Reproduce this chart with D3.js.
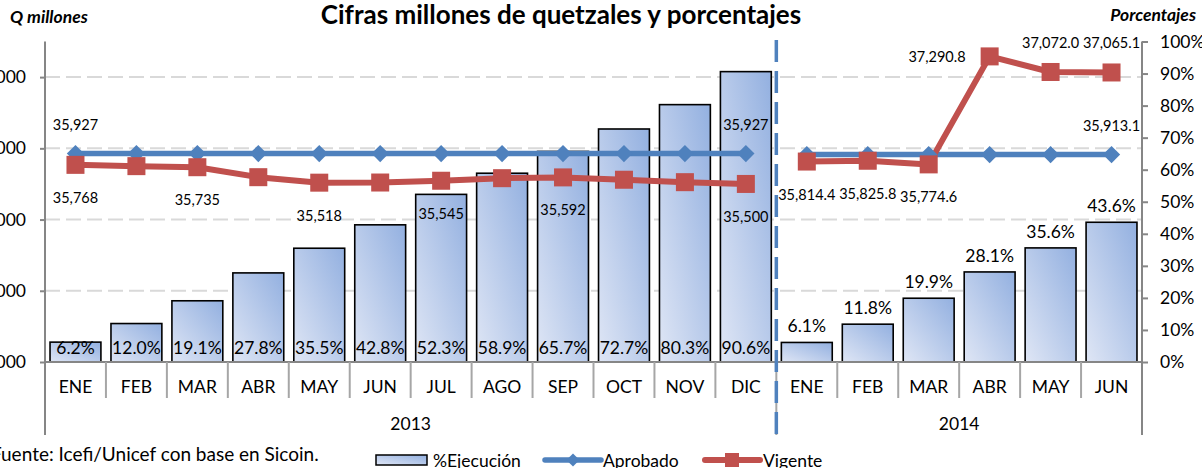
<!DOCTYPE html>
<html>
<head>
<meta charset="utf-8">
<script src="https://cdn.jsdelivr.net/npm/d3@7"></script>
<style>
  body { margin: 0; background: #fff; }
  text { font-family: Lato, "Open Sans", sans-serif; fill: #000; }
</style>
</head>
<body>
<svg id="chart" width="1202" height="468"></svg>
<script>
// data
var years = ["2013", "2014"];
var months2013 = ["ENE","FEB","MAR","ABR","MAY","JUN","JUL","AGO","SEP","OCT","NOV","DIC"];
var months2014 = ["ENE","FEB","MAR","ABR","MAY","JUN"];
var ejecucion2013 = [6.2, 12.0, 19.1, 27.8, 35.5, 42.8, 52.3, 58.9, 65.7, 72.7, 80.3, 90.6];
var ejecucion2014 = [6.1, 11.8, 19.9, 28.1, 35.6, 43.6];
var aprobado2013 = [35927, 35927, 35927, 35927, 35927, 35927, 35927, 35927, 35927, 35927, 35927, 35927];
var aprobado2014 = [35913.1, 35913.1, 35913.1, 35913.1, 35913.1, 35913.1];
var vigente2013 = [35768, 35750, 35735, 35595, 35518, 35520, 35545, 35581, 35592, 35559, 35525, 35500];
var vigente2014 = [35814.4, 35825.8, 35774.6, 37290.8, 37072.0, 37065.1];
var leftTicks = [33000, 34000, 35000, 36000, 37000];
var rightTicks = [0, 10, 20, 30, 40, 50, 60, 70, 80, 90, 100];

// which points carry a data label, and where
var aprobLabels = { "2013-0": "above", "2013-11": "above", "2014-5": "above" };
var vigLabels = { "2013-0": "below", "2013-2": "below", "2013-4": "below", "2013-6": "below",
  "2013-8": "below", "2013-11": "below", "2014-0": "below", "2014-1": "below", "2014-2": "below",
  "2014-3": "left", "2014-4": "above", "2014-5": "above" };

var rows = [];
months2013.forEach(function(m, i) {
  rows.push({ year: "2013", i: i, month: m, key: "2013-" + i, ejec: ejecucion2013[i], aprob: aprobado2013[i], vig: vigente2013[i] });
});
months2014.forEach(function(m, i) {
  rows.push({ year: "2014", i: i, month: m, key: "2014-" + i, ejec: ejecucion2014[i], aprob: aprobado2014[i], vig: vigente2014[i] });
});

var plotLeft = 45, plotRight = 1142, plotTop = 41.5, plotBottom = 362;
var blue = "#4f81bd", red = "#c0504d";
var fs = 17.5;

var svg = d3.select("#chart");

var x = d3.scaleBand().domain(rows.map(function(d) { return d.key; }))
  .range([plotLeft, plotRight]).paddingInner(0.165).paddingOuter(0.0825);
var yL = d3.scaleLinear().domain([33000, 37500]).range([plotBottom, plotTop]);
var yR = d3.scaleLinear().domain([0, 100]).range([plotBottom, plotTop]);
var cx = function(d) { return x(d.key) + x.bandwidth() / 2; };

var defs = svg.append("defs");
var grad = defs.append("linearGradient").attr("id", "barGrad")
  .attr("x1", "0").attr("y1", "1").attr("x2", "1").attr("y2", "0");
grad.append("stop").attr("offset", "0%").attr("stop-color", "#dfe6f5");
grad.append("stop").attr("offset", "100%").attr("stop-color", "#93b0e0");

// gridlines from the left axis
svg.append("g").selectAll("line").data(leftTicks.slice(1)).join("line")
  .attr("x1", plotLeft).attr("x2", plotRight)
  .attr("y1", function(d) { return yL(d); }).attr("y2", function(d) { return yL(d); })
  .attr("stroke", "#d9d9d9").attr("stroke-width", 2).attr("stroke-dasharray", "15,6");

// bars
svg.append("g").selectAll("rect").data(rows).join("rect")
  .attr("x", function(d) { return x(d.key); })
  .attr("width", x.bandwidth())
  .attr("y", function(d) { return yR(d.ejec); })
  .attr("height", function(d) { return yR(0) - yR(d.ejec); })
  .attr("fill", "url(#barGrad)").attr("stroke", "#000").attr("stroke-width", 1.6);

svg.append("g").selectAll("text").data(rows).join("text")
  .attr("x", cx)
  .attr("y", function(d) { return d.year === "2013" ? plotBottom - 8 : yR(d.ejec) - 10; })
  .attr("text-anchor", "middle").attr("font-size", fs)
  .text(function(d) { return d3.format(".1f")(d.ejec) + "%"; });

// left axis
var axL = svg.append("g").attr("transform", "translate(" + plotLeft + ",0)")
  .call(d3.axisLeft(yL).tickValues(leftTicks).tickSize(5).tickPadding(14).tickFormat(d3.format(",")));
axL.select(".domain").remove();
axL.selectAll("line").attr("stroke", "#868686").attr("stroke-width", 2);
axL.selectAll("text").attr("font-size", fs).attr("font-family", "Lato, sans-serif");
svg.append("line").attr("x1", plotLeft).attr("x2", plotLeft).attr("y1", plotTop).attr("y2", 435)
  .attr("stroke", "#868686").attr("stroke-width", 2);

// right axis
var axR = svg.append("g").attr("transform", "translate(" + plotRight + ",0)")
  .call(d3.axisRight(yR).tickValues(rightTicks).tickSize(6).tickPadding(12).tickFormat(function(d) { return d + "%"; }));
axR.select(".domain").remove();
axR.selectAll("line").attr("stroke", "#868686").attr("stroke-width", 2);
axR.selectAll("text").attr("font-size", fs).attr("font-family", "Lato, sans-serif");
svg.append("line").attr("x1", plotRight).attr("x2", plotRight).attr("y1", plotTop).attr("y2", 435)
  .attr("stroke", "#868686").attr("stroke-width", 2);

// category axis
svg.append("line").attr("x1", plotLeft).attr("x2", plotRight).attr("y1", plotBottom).attr("y2", plotBottom)
  .attr("stroke", "#868686").attr("stroke-width", 2);
var step = x.step();
svg.append("g").selectAll("line").data(rows.slice(1)).join("line")
  .attr("x1", function(d) { return cx(d) - step / 2; }).attr("x2", function(d) { return cx(d) - step / 2; })
  .attr("y1", plotBottom).attr("y2", function(d) { return d.i === 0 ? 435 : 398; })
  .attr("stroke", "#a6a6a6").attr("stroke-width", 2);
svg.append("g").selectAll("text").data(rows).join("text")
  .attr("x", cx).attr("y", 393).attr("text-anchor", "middle").attr("font-size", fs)
  .text(function(d) { return d.month; });
svg.append("g").selectAll("text").data(years).join("text")
  .attr("x", function(yr) {
    var r = rows.filter(function(d) { return d.year === yr; });
    return (cx(r[0]) + cx(r[r.length - 1])) / 2;
  })
  .attr("y", 430).attr("text-anchor", "middle").attr("font-size", fs)
  .text(function(d) { return d; });

// year separator
var sep = cx(rows[12]) - step / 2;
svg.append("line").attr("x1", sep).attr("x2", sep).attr("y1", 40).attr("y2", 438)
  .attr("stroke", blue).attr("stroke-width", 3.5).attr("stroke-dasharray", "22,9");

// lines
var lineA = d3.line().x(cx).y(function(d) { return yL(d.aprob); });
var lineV = d3.line().x(cx).y(function(d) { return yL(d.vig); });
var fmt0 = d3.format(","), fmt1 = d3.format(",.1f");
var fmt = function(d, v) { return d.year === "2013" ? fmt0(v) : fmt1(v); };

years.forEach(function(yr) {
  var r = rows.filter(function(d) { return d.year === yr; });
  svg.append("path").datum(r).attr("d", lineA).attr("fill", "none")
    .attr("stroke", blue).attr("stroke-width", 5.5).attr("stroke-linejoin", "round");
  svg.append("path").datum(r).attr("d", lineV).attr("fill", "none")
    .attr("stroke", red).attr("stroke-width", 6).attr("stroke-linejoin", "round");
});

svg.append("g").selectAll("path").data(rows).join("path")
  .attr("d", d3.symbol().type(d3.symbolDiamond2).size(190))
  .attr("transform", function(d) { return "translate(" + cx(d) + "," + yL(d.aprob) + ")"; })
  .attr("fill", blue);
svg.append("g").selectAll("rect").data(rows).join("rect")
  .attr("x", function(d) { return cx(d) - 9; }).attr("y", function(d) { return yL(d.vig) - 9; })
  .attr("width", 18).attr("height", 18).attr("fill", red);

function placeLabel(d, v, pos) {
  var px = cx(d), py = yL(v), anchor = "middle";
  if (pos === "above") py -= 24;
  else if (pos === "below") py += 38;
  else if (pos === "left") { px -= 24; py += 6; anchor = "end"; }
  return { x: px, y: py, anchor: anchor };
}
var labelRows = [];
rows.forEach(function(d) {
  if (aprobLabels[d.key]) labelRows.push(Object.assign({ v: d.aprob, pos: aprobLabels[d.key] }, d));
  if (vigLabels[d.key]) labelRows.push(Object.assign({ v: d.vig, pos: vigLabels[d.key] }, d));
});
svg.append("g").selectAll("text").data(labelRows).join("text")
  .each(function(d) {
    var p = placeLabel(d, d.v, d.pos);
    d3.select(this).attr("x", p.x).attr("y", p.y).attr("text-anchor", p.anchor);
  })
  .attr("font-size", 14.5)
  .text(function(d) { return fmt(d, d.v); });

// titles
svg.append("text").attr("x", 561).attr("y", 24).attr("text-anchor", "middle")
  .attr("font-size", 26).attr("font-weight", "bold")
  .text("Cifras millones de quetzales y porcentajes");
svg.append("text").attr("x", 10).attr("y", 23).attr("font-size", 17.5)
  .attr("font-weight", "bold").attr("font-style", "italic").text("Q millones");
svg.append("text").attr("x", 1196).attr("y", 21).attr("text-anchor", "end").attr("font-size", 17.5)
  .attr("font-weight", "bold").attr("font-style", "italic").text("Porcentajes");

// source
svg.append("text").attr("x", -9).attr("y", 461).attr("font-size", 19)
  .text("Fuente: Icefi/Unicef con base en Sicoin.");

// legend
var lg = svg.append("g");
lg.append("rect").attr("x", 376).attr("y", 455).attr("width", 51).attr("height", 10)
  .attr("fill", "url(#barGrad)").attr("stroke", "#000").attr("stroke-width", 1.5);
lg.append("text").attr("x", 433).attr("y", 467).attr("font-size", fs).text("%Ejecución");
lg.append("line").attr("x1", 545).attr("x2", 601).attr("y1", 460).attr("y2", 460)
  .attr("stroke", blue).attr("stroke-width", 5.5).attr("stroke-linecap", "round");
lg.append("path").attr("d", d3.symbol().type(d3.symbolDiamond2).size(110))
  .attr("transform", "translate(573,460)").attr("fill", blue);
lg.append("text").attr("x", 603).attr("y", 467).attr("font-size", fs).text("Aprobado");
lg.append("line").attr("x1", 705).attr("x2", 760).attr("y1", 460).attr("y2", 460)
  .attr("stroke", red).attr("stroke-width", 6).attr("stroke-linecap", "round");
lg.append("rect").attr("x", 725).attr("y", 453).attr("width", 14).attr("height", 14).attr("fill", red);
lg.append("text").attr("x", 763).attr("y", 467).attr("font-size", fs).text("Vigente");
</script>
</body>
</html>
